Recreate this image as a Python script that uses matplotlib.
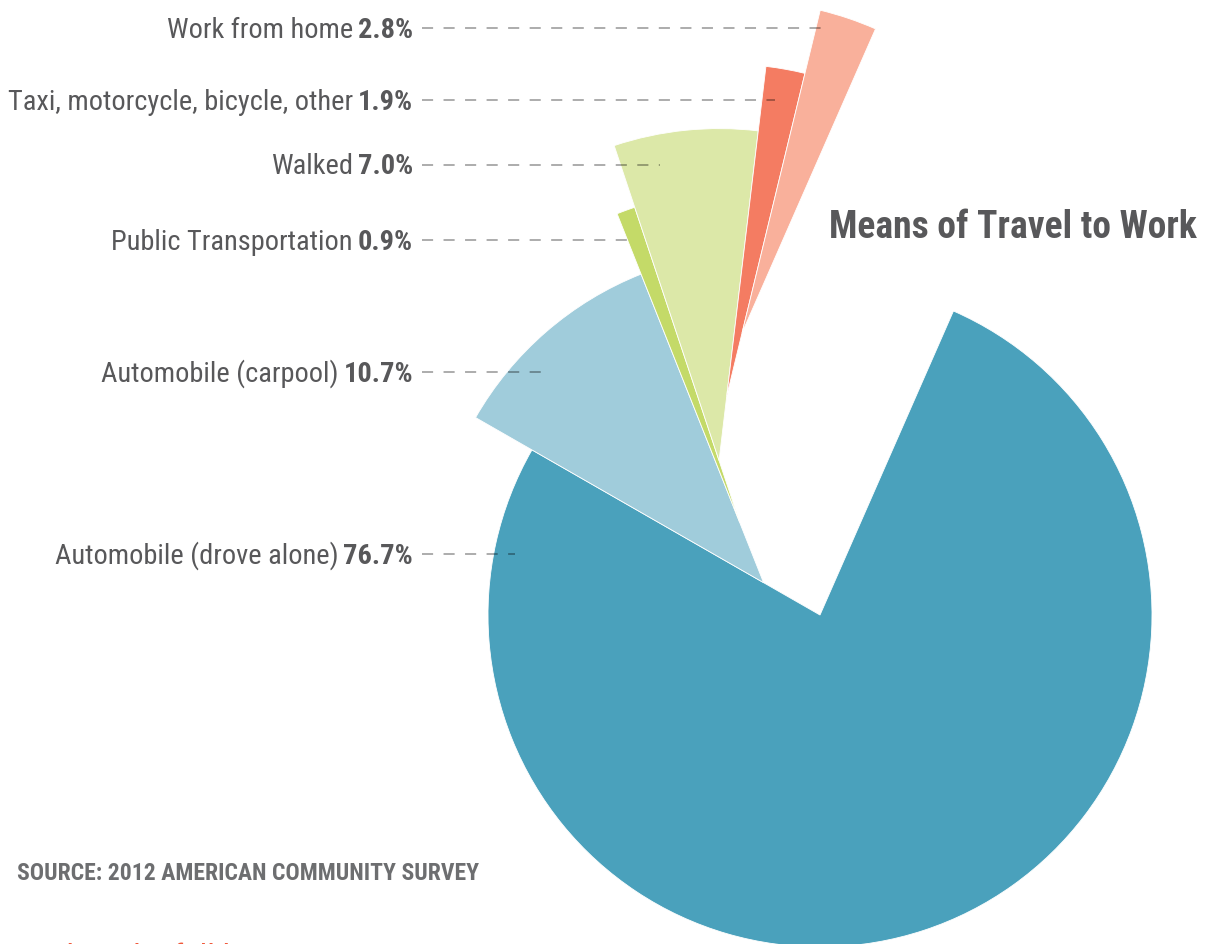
"""Means of Travel to Work: spiral-offset pie with left-side labels."""

import numpy as np
import matplotlib

matplotlib.use("Agg")
import matplotlib.pyplot as plt
from matplotlib import font_manager
from matplotlib.patches import Wedge

# data (2012 American Community Survey)
categories = [
    "Automobile (drove alone)",
    "Automobile (carpool)",
    "Public Transportation",
    "Walked",
    "Taxi, motorcycle, bicycle, other",
    "Work from home",
]
shares = [76.7, 10.7, 0.9, 7.0, 1.9, 2.8]
slice_colors = ["#4AA1BC", "#A0CCDB", "#C4DA68", "#DCE8A8", "#F47C62", "#F9B09B"]

# layout, in pixels of the 1207x945 canvas
W, H = 1207, 945
CENTER = (820, 616)
RADIUS = 332
STEP = 65            # each slice's tip slides this far along the previous edge
START_BEARING = 23.7  # degrees clockwise from north
label_y = [556, 374, 242, 167, 102, 30]
leader_end_x = [515, 545, 633, 660, 775, 822]
LABEL_RIGHT = 413

TEXT_GREY = "#58585A"


def pick_font(candidates):
    avail = {f.name for f in font_manager.fontManager.ttflist}
    for c in candidates:
        if c in avail:
            return c
    return "DejaVu Sans"


FONT = pick_font(["Liberation Sans Narrow", "Roboto Condensed", "DejaVu Sans"])
plt.rcParams["font.family"] = [FONT, "DejaVu Sans"]
plt.rcParams["lines.scale_dashes"] = False

fig = plt.figure(figsize=(W / 100, H / 100), dpi=100)
ax = fig.add_axes([0, 0, 1, 1])
ax.set_xlim(0, W)
ax.set_ylim(H, 0)
ax.axis("off")

frac = np.asarray(shares, dtype=float) / np.sum(shares)
bearings = START_BEARING + 360.0 * np.concatenate([[0.0], np.cumsum(frac)])

# y axis points down, so bearing b maps to data angle b - 90
apex = np.array(CENTER, dtype=float)
for i, color in enumerate(slice_colors):
    b0, b1 = bearings[i], bearings[i + 1]
    if i > 0:
        r = np.deg2rad(b0)
        apex = apex + STEP * np.array([np.sin(r), -np.cos(r)])
    ax.add_patch(
        Wedge(tuple(apex), RADIUS, b0 - 90, b1 - 90,
              facecolor=color, edgecolor="white", linewidth=0.6, zorder=2)
    )

# labels: bold share right-aligned, category name to its left
fig.canvas.draw()
renderer = fig.canvas.get_renderer()
for name, val, y, x_end in zip(categories, shares, label_y, leader_end_x):
    t_val = ax.text(LABEL_RIGHT, y, f"{val:.1f}%", ha="right", va="center",
                    fontsize=20.4, fontweight="bold", color=TEXT_GREY, zorder=4)
    bb = t_val.get_window_extent(renderer=renderer)
    x_left = LABEL_RIGHT - bb.width
    ax.text(x_left - 5, y, name, ha="right", va="center",
            fontsize=20.4, color=TEXT_GREY, zorder=4)
    ax.plot([LABEL_RIGHT + 9, x_end], [y - 1, y - 1], color="black", alpha=0.38,
            linewidth=1.2, dashes=(8, 7.5), zorder=3, solid_capstyle="butt")

ax.text(1197, 228, "Means of Travel to Work", ha="right", va="center",
        fontsize=27, fontweight="bold", color=TEXT_GREY)
ax.text(17, 873, "SOURCE: 2012 AMERICAN COMMUNITY SURVEY", ha="left", va="center",
        fontsize=17, fontweight="bold", color="#6D6E70")
# link text cut off by the bottom edge, as in the original page capture
ax.text(17, 968, "Back to the full list: Maine", ha="left", va="baseline",
        fontsize=24, color="#F05A3C")

fig.savefig("out.png", dpi=100)
